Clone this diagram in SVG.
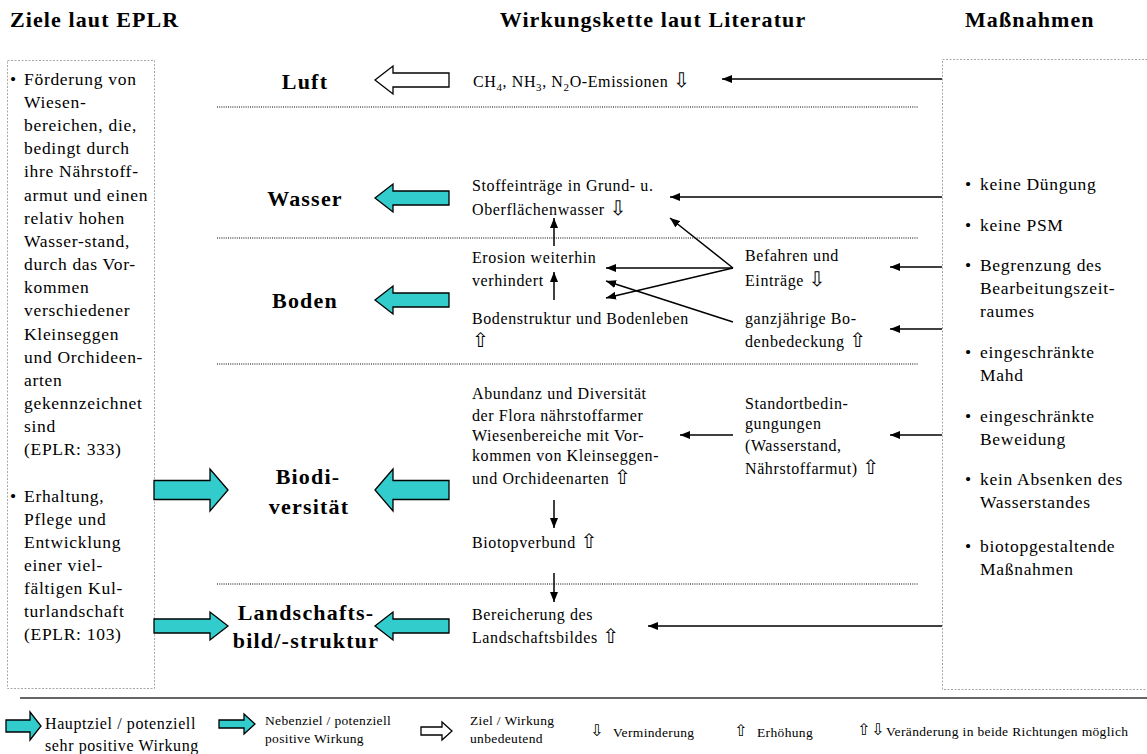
<svg xmlns="http://www.w3.org/2000/svg" width="1147" height="754" viewBox="0 0 1147 754">
  <style>
    .hdr { font-family: "Liberation Serif", serif; font-weight: bold; font-size: 22px; letter-spacing: 1.1px; fill: #000; }
    .cat { font-family: "Liberation Serif", serif; font-weight: bold; font-size: 22px; fill: #000; text-anchor: middle; letter-spacing: 1.2px; }
    .txt { font-family: "Liberation Serif", "DejaVu Sans", serif; font-size: 16px; letter-spacing: 0.6px; fill: #000; }
    .lst { font-family: "Liberation Serif", "DejaVu Sans", serif; font-size: 17.5px; letter-spacing: 0.7px; fill: #000; }
    .sml { font-family: "Liberation Serif", "DejaVu Sans", serif; font-size: 13.5px; letter-spacing: 0.35px; fill: #000; }
    .sym { font-family: "DejaVu Sans", sans-serif; font-size: 20px; letter-spacing: 0; fill: #000; }
    .lsym { font-family: "DejaVu Sans", sans-serif; font-size: 16px; letter-spacing: 0; fill: #000; }
    .box { fill: none; stroke: #a8a8a8; stroke-width: 1; stroke-dasharray: 2 1.5; }
    .sep { fill: none; stroke: #000; stroke-width: 1; stroke-dasharray: 1 1.2; }
    .teal { fill: #33cccc; stroke: #000; stroke-width: 1.3; stroke-linejoin: miter; }
    .hollow { fill: #fff; stroke: #000; stroke-width: 1.3; stroke-linejoin: miter; }
    .con { fill: none; stroke: #000; stroke-width: 1.5; marker-end: url(#head); }
  </style>
  <defs>
    <marker id="head" markerWidth="11" markerHeight="8" refX="10" refY="4" orient="auto" markerUnits="userSpaceOnUse">
      <path d="M0,0 L10,4 L0,8 Z" fill="#000"/>
    </marker>
    <!-- block arrows pointing left, tip at origin -->
    <path id="bigL" d="M0,0 L18,-21 L18,-9.5 L74,-9.5 L74,9.5 L18,9.5 L18,21 Z"/>
    <path id="medL" d="M0,0 L18,-14 L18,-7 L74,-7 L74,7 L18,7 L18,14 Z"/>
  </defs>

  <!-- column headings -->
  <g id="headings">
    <text class="hdr" x="10" y="27">Ziele laut EPLR</text>
    <text class="hdr" x="653" y="27" text-anchor="middle">Wirkungskette laut Literatur</text>
    <text class="hdr" x="965" y="27">Maßnahmen</text>
  </g>

  <!-- section separators -->
  <g id="separators">
    <line class="sep" x1="217" y1="107" x2="918" y2="107"/>
    <line class="sep" x1="217" y1="238" x2="918" y2="238"/>
    <line class="sep" x1="217" y1="364" x2="918" y2="364"/>
    <line class="sep" x1="217" y1="584" x2="918" y2="584"/>
  </g>

  <!-- goals box -->
  <g id="ziele">
    <rect class="box" x="7.5" y="60.5" width="147" height="628"/>
    <text class="lst" x="10" y="85">•</text>
    <text class="lst" x="24" y="85">Förderung von</text>
    <text class="lst" x="24" y="108">Wiesen-</text>
    <text class="lst" x="24" y="131">bereichen, die,</text>
    <text class="lst" x="24" y="154">bedingt durch</text>
    <text class="lst" x="24" y="177">ihre Nährstoff-</text>
    <text class="lst" x="24" y="201">armut und einen</text>
    <text class="lst" x="24" y="224">relativ hohen</text>
    <text class="lst" x="24" y="247">Wasser-stand,</text>
    <text class="lst" x="24" y="270">durch das Vor-</text>
    <text class="lst" x="24" y="293">kommen</text>
    <text class="lst" x="24" y="316">verschiedener</text>
    <text class="lst" x="24" y="340">Kleinseggen</text>
    <text class="lst" x="24" y="363">und Orchideen-</text>
    <text class="lst" x="24" y="386">arten</text>
    <text class="lst" x="24" y="409">gekennzeichnet</text>
    <text class="lst" x="24" y="432">sind</text>
    <text class="lst" x="24" y="455">(EPLR: 333)</text>
    <text class="lst" x="10" y="502">•</text>
    <text class="lst" x="24" y="502">Erhaltung,</text>
    <text class="lst" x="24" y="525">Pflege und</text>
    <text class="lst" x="24" y="548">Entwicklung</text>
    <text class="lst" x="24" y="571">einer viel-</text>
    <text class="lst" x="24" y="594">fältigen Kul-</text>
    <text class="lst" x="24" y="617">turlandschaft</text>
    <text class="lst" x="24" y="640">(EPLR: 103)</text>
  </g>

  <!-- measures box -->
  <g id="massnahmen">
    <rect class="box" x="942.5" y="59.5" width="210" height="630"/>
    <text class="lst" x="965" y="190">•</text><text class="lst" x="980" y="190">keine Düngung</text>
    <text class="lst" x="965" y="231">•</text><text class="lst" x="980" y="231">keine PSM</text>
    <text class="lst" x="965" y="271">•</text><text class="lst" x="980" y="271">Begrenzung des</text>
    <text class="lst" x="980" y="294">Bearbeitungszeit-</text>
    <text class="lst" x="980" y="317">raumes</text>
    <text class="lst" x="965" y="358">•</text><text class="lst" x="980" y="358">eingeschränkte</text>
    <text class="lst" x="980" y="381">Mahd</text>
    <text class="lst" x="965" y="422">•</text><text class="lst" x="980" y="422">eingeschränkte</text>
    <text class="lst" x="980" y="445">Beweidung</text>
    <text class="lst" x="965" y="485">•</text><text class="lst" x="980" y="485">kein Absenken des</text>
    <text class="lst" x="980" y="508">Wasserstandes</text>
    <text class="lst" x="965" y="552">•</text><text class="lst" x="980" y="552">biotopgestaltende</text>
    <text class="lst" x="980" y="575">Maßnahmen</text>
  </g>

  <!-- protected goods -->
  <g id="luft">
    <text class="cat" x="305" y="89">Luft</text>
    <use href="#medL" class="hollow" transform="translate(375,80)"/>
  </g>
  <g id="wasser">
    <text class="cat" x="305" y="206">Wasser</text>
    <use href="#medL" class="teal" transform="translate(375,198)"/>
  </g>
  <g id="boden">
    <text class="cat" x="305" y="308">Boden</text>
    <use href="#medL" class="teal" transform="translate(375,300)"/>
  </g>
  <g id="biodiversitaet">
    <text class="cat" x="308" y="484">Biodi-</text>
    <text class="cat" x="309" y="514">versität</text>
    <use href="#bigL" class="teal" transform="translate(375,490)"/>
    <use href="#bigL" class="teal" transform="translate(228,490) scale(-1,1)"/>
  </g>
  <g id="landschaft">
    <text class="cat" x="306" y="620">Landschafts-</text>
    <text class="cat" x="306" y="648">bild/-struktur</text>
    <use href="#medL" class="teal" transform="translate(375,626)"/>
    <use href="#medL" class="teal" transform="translate(228,626) scale(-1,1)"/>
  </g>

  <!-- effect chain nodes -->
  <g id="emissionen">
    <text class="txt" x="473" y="87">CH<tspan font-size="11" dy="4">4</tspan><tspan dy="-4">, NH</tspan><tspan font-size="11" dy="4">3</tspan><tspan dy="-4">, N</tspan><tspan font-size="11" dy="4">2</tspan><tspan dy="-4">O-Emissionen </tspan><tspan class="sym">⇩</tspan></text>
  </g>
  <g id="stoffeintraege">
    <text class="txt" x="472" y="191">Stoffeinträge in Grund- u.</text>
    <text class="txt" x="472" y="215">Oberflächenwasser <tspan class="sym">⇩</tspan></text>
  </g>
  <g id="erosion">
    <text class="txt" x="472" y="263">Erosion weiterhin</text>
    <text class="txt" x="472" y="286">verhindert</text>
  </g>
  <g id="bodenstruktur">
    <text class="txt" x="472" y="324">Bodenstruktur und Bodenleben</text>
    <text class="sym" x="472" y="347">⇧</text>
  </g>
  <g id="befahren">
    <text class="txt" x="745" y="261">Befahren und</text>
    <text class="txt" x="745" y="286">Einträge <tspan class="sym">⇩</tspan></text>
  </g>
  <g id="bodenbedeckung">
    <text class="txt" x="745" y="324">ganzjährige Bo-</text>
    <text class="txt" x="745" y="347">denbedeckung <tspan class="sym">⇧</tspan></text>
  </g>
  <g id="abundanz">
    <text class="txt" x="472" y="399">Abundanz und Diversität</text>
    <text class="txt" x="472" y="421">der Flora nährstoffarmer</text>
    <text class="txt" x="472" y="441">Wiesenbereiche mit Vor-</text>
    <text class="txt" x="472" y="461">kommen von Kleinseggen-</text>
    <text class="txt" x="472" y="484">und Orchideenarten <tspan class="sym">⇧</tspan></text>
  </g>
  <g id="standort">
    <text class="txt" x="745" y="409">Standortbedin-</text>
    <text class="txt" x="745" y="429">gungungen</text>
    <text class="txt" x="745" y="451">(Wasserstand,</text>
    <text class="txt" x="745" y="474">Nährstoffarmut) <tspan class="sym">⇧</tspan></text>
  </g>
  <g id="biotopverbund">
    <text class="txt" x="472" y="548">Biotopverbund <tspan class="sym">⇧</tspan></text>
  </g>
  <g id="bereicherung">
    <text class="txt" x="472" y="620">Bereicherung des</text>
    <text class="txt" x="472" y="643">Landschaftsbildes <tspan class="sym">⇧</tspan></text>
  </g>

  <!-- connectors -->
  <g id="connectors">
    <path class="con" d="M942,79 L722,79"/>
    <path class="con" d="M942,197 L670,197"/>
    <path class="con" d="M942,267 L890,267"/>
    <path class="con" d="M942,329 L890,329"/>
    <path class="con" d="M942,435 L890,435"/>
    <path class="con" d="M942,626 L648,626"/>
    <path class="con" d="M733,435 L680,435"/>
    <path class="con" d="M554,500 L554,528"/>
    <path class="con" d="M554,573 L554,602"/>
    <path class="con" d="M554,246 L554,218"/>
    <path class="con" d="M554,300 L554,272"/>
    <path class="con" d="M733,268 L606,268"/>
    <path class="con" d="M733,268 L670,218"/>
    <path class="con" d="M733,268 L606,298"/>
    <path class="con" d="M733,322 L606,281"/>
  </g>

  <!-- legend -->
  <g id="legend">
    <line x1="20" y1="698" x2="1147" y2="698" stroke="#333" stroke-width="1.5"/>
    <path class="teal" d="M6,720 L30,720 L30,712 L41,726 L30,740 L30,732 L6,732 Z"/>
    <text class="txt" x="45" y="729">Hauptziel / potenziell</text>
    <text class="txt" x="45" y="751">sehr positive Wirkung</text>
    <path class="teal" d="M219,720 L244,720 L244,714 L255,724 L244,734 L244,728 L219,728 Z"/>
    <text class="sml" x="265" y="725">Nebenziel / potenziell</text>
    <text class="sml" x="265" y="743">positive Wirkung</text>
    <path class="hollow" d="M421,727 L442,727 L442,722 L452,731 L442,740 L442,735 L421,735 Z"/>
    <text class="sml" x="470" y="725">Ziel / Wirkung</text>
    <text class="sml" x="470" y="743">unbedeutend</text>
    <text class="lsym" x="590" y="736">⇩</text>
    <text class="sml" x="613" y="737">Verminderung</text>
    <text class="lsym" x="734" y="736">⇧</text>
    <text class="sml" x="757" y="737">Erhöhung</text>
    <text class="lsym" x="857" y="735">⇧</text>
    <text class="lsym" x="871" y="735">⇩</text>
    <text class="sml" x="886" y="736">Veränderung in beide Richtungen möglich</text>
  </g>
</svg>
